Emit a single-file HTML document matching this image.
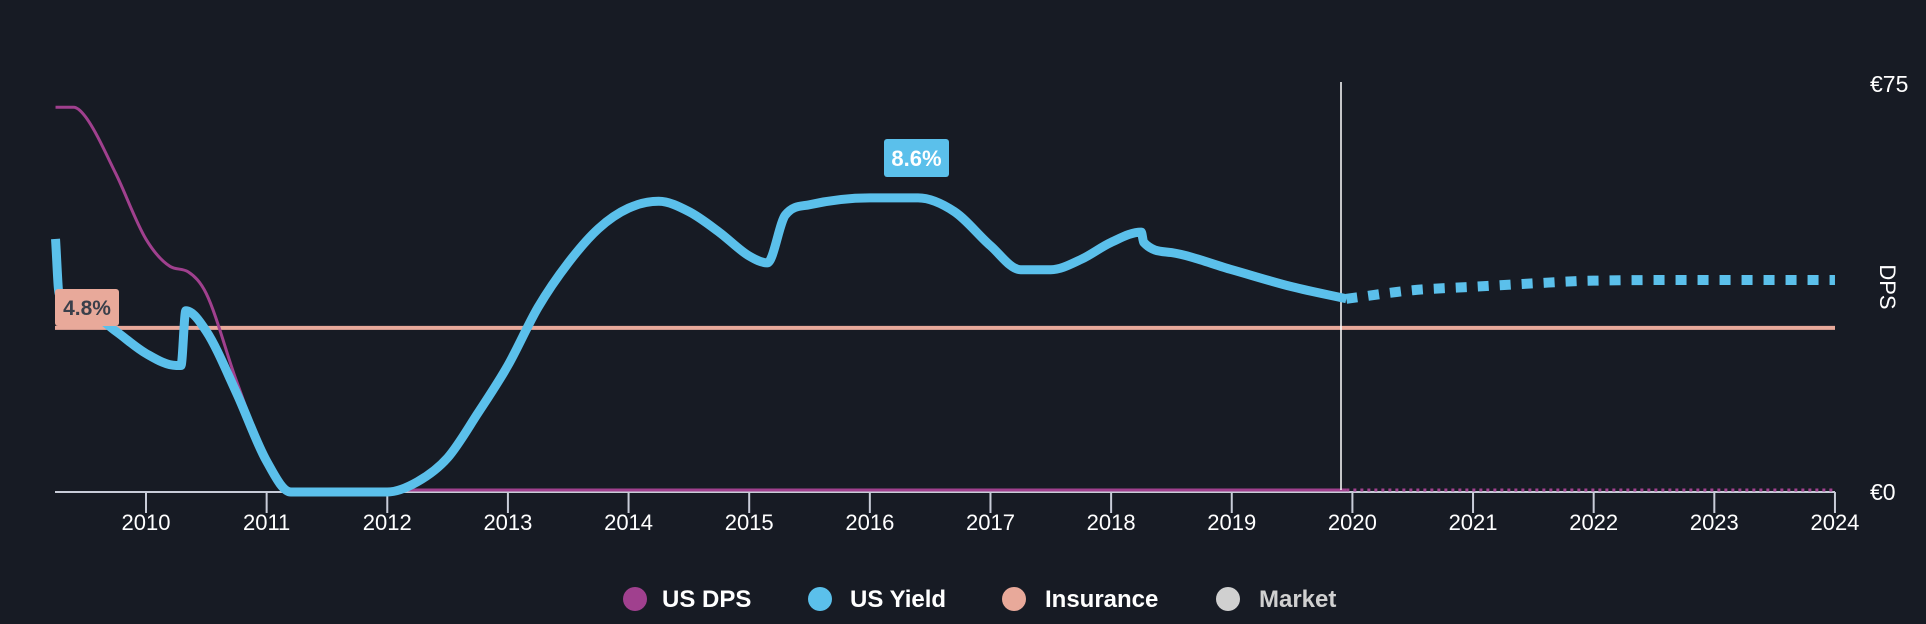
<!DOCTYPE html>
<html><head><meta charset="utf-8"><style>
html,body{margin:0;padding:0;background:#171b24;}
svg{display:block;font-family:"Liberation Sans",sans-serif;}
</style></head><body>
<svg id="chart" width="1926" height="624" viewBox="0 0 1926 624" xmlns="http://www.w3.org/2000/svg">
<rect width="1926" height="624" fill="#171b24"/>
<g id="g"></g>
</svg>
<script>
const years=[2010,2011,2012,2013,2014,2015,2016,2017,2018,2019,2020,2021,2022,2023,2024];
const yieldX=[2009.25,2009.28,2009.5,2009.75,2010.0,2010.25,2010.29,2010.33,2010.5,2010.75,2011.0,2011.2,2012.0,2012.25,2012.5,2012.75,2013.0,2013.25,2013.5,2013.75,2014.0,2014.25,2014.5,2014.75,2015.0,2015.15,2015.3,2015.5,2016.0,2016.4,2016.7,2017.0,2017.25,2017.5,2017.75,2018.0,2018.25,2018.27,2018.5,2019.0,2019.5,2019.95];
const yieldY=[7.4,5.8,5.3,4.7,4.05,3.7,3.7,5.3,4.7,2.9,0.9,0,0,0.3,1.0,2.3,3.7,5.4,6.7,7.7,8.3,8.5,8.2,7.6,6.9,6.7,8.1,8.4,8.6,8.6,8.2,7.2,6.5,6.5,6.8,7.3,7.6,7.3,7.0,6.5,6.0,5.65];
const fcX=[2019.95,2020.5,2021,2021.5,2022,2023,2024];
const fcY=[5.65,5.9,6.0,6.1,6.18,6.2,6.2];
const dpsX=[2009.25,2009.4,2009.5,2009.75,2010.0,2010.2,2010.35,2010.5,2010.75,2011.0,2011.2,2019.95];
const dpsY=[70.2,70.2,68.4,58,46,41,40,36,20,5.8,0,0];
const insuranceYield=4.8;
const peakLabel="8.6%";
const insLabel="4.8%";

const X0=2010,PX0=146,PPY=120.64;
const xs=v=>PX0+(v-X0)*PPY;
const yY=v=>492-v*34.2;
const yD=v=>492-v*5.453;
const g=document.getElementById('g');
const NS='http://www.w3.org/2000/svg';
function mk(t,a,p){const e=document.createElementNS(NS,t);for(const k in a)e.setAttribute(k,a[k]);(p||g).appendChild(e);return e;}
// monotone cubic (Fritsch-Carlson)
function smooth(pts){
  const n=pts.length;const dx=[],dy=[],m=[],tg=[];
  for(let i=0;i<n-1;i++){dx[i]=pts[i+1][0]-pts[i][0];dy[i]=pts[i+1][1]-pts[i][1];m[i]=dy[i]/dx[i];}
  tg[0]=m[0];tg[n-1]=m[n-2];
  for(let i=1;i<n-1;i++){tg[i]=(m[i-1]*m[i]<=0)?0:(m[i-1]+m[i])/2;}
  for(let i=0;i<n-1;i++){
    if(m[i]===0){tg[i]=0;tg[i+1]=0;continue;}
    const a=tg[i]/m[i],b=tg[i+1]/m[i],s=a*a+b*b;
    if(s>9){const t=3/Math.sqrt(s);tg[i]=t*a*m[i];tg[i+1]=t*b*m[i];}
  }
  let d='M'+pts[0][0]+','+pts[0][1];
  for(let i=0;i<n-1;i++){
    const h=dx[i]/3;
    d+=' C'+(pts[i][0]+h)+','+(pts[i][1]+tg[i]*h)+' '+(pts[i+1][0]-h)+','+(pts[i+1][1]-tg[i+1]*h)+' '+pts[i+1][0]+','+pts[i+1][1];
  }
  return d;
}
let e;
e=mk('line',{x1:55,y1:492,x2:1835,y2:492,stroke:'#c8ccd8','stroke-width':2});


years.forEach(y=>{
  const x=xs(y);
  const t=mk('line',{x1:x,y1:492,x2:x,y2:513,stroke:'#c8ccd8','stroke-width':2});
  
  
  const l=mk('text',{x:x,y:514,'text-anchor':'middle',fill:'#fff','font-size':22,'dominant-baseline':'hanging'});
  l.textContent=y;
  
  
});
e=mk('line',{x1:55,y1:yY(insuranceYield),x2:1835,y2:yY(insuranceYield),stroke:'#e8a99a','stroke-width':4});


e=mk('path',{d:smooth(dpsX.map((x,i)=>[xs(x),yD(dpsY[i])-2])),fill:'none',stroke:'#a0408e','stroke-width':3});


e=mk('line',{x1:xs(2019.95),y1:yD(0)-2,x2:1835,y2:yD(0)-2,stroke:'#a0408e','stroke-width':3,'stroke-dasharray':'3 4'});


e=mk('line',{x1:1341,y1:82,x2:1341,y2:490,stroke:'#fff','stroke-width':1.5});


e=mk('path',{d:smooth(yieldX.map((x,i)=>[xs(x),yY(yieldY[i])])),fill:'none',stroke:'#5bc0eb','stroke-width':9,'stroke-linejoin':'round'});


e=mk('path',{d:smooth(fcX.map((x,i)=>[xs(x),yY(fcY[i])])),fill:'none',stroke:'#5bc0eb','stroke-width':10,'stroke-dasharray':'11 11'});


e=mk('rect',{x:55,y:289,width:64,height:37,rx:3,fill:'#e8a99a'});


e=mk('text',{x:87,y:315,'text-anchor':'middle',fill:'#3a3f4a','font-size':21,'font-weight':'bold'});
e.textContent=insLabel;


e=mk('rect',{x:884,y:139,width:65,height:38,rx:3,fill:'#5bc0eb'});


e=mk('text',{x:916.5,y:166,'text-anchor':'middle',fill:'#fff','font-size':22,'font-weight':'bold'});
e.textContent=peakLabel;


e=mk('text',{x:1870,y:92,fill:'#fff','font-size':23});
e.textContent='€75';


e=mk('text',{x:1870,y:500,fill:'#fff','font-size':23});
e.textContent='€0';


e=mk('text',{x:1880,y:287,fill:'#fff','font-size':22,'text-anchor':'middle',transform:'rotate(90 1880 287)'});
e.textContent='DPS';


const leg=[['US DPS','#a0408e',635,662,'#fff'],['US Yield','#5bc0eb',820,850,'#fff'],['Insurance','#e8a99a',1014,1045,'#fff'],['Market','#d0d0d0',1228,1259,'#d0d0d0']];
leg.forEach(l=>{
  const c=mk('circle',{cx:l[2],cy:599,r:12,fill:l[1]});
  
  
  const t=mk('text',{x:l[3],y:607,fill:l[4],'font-size':24,'font-weight':'bold'});
  t.textContent=l[0];
  
  
});
</script>
</body></html>
